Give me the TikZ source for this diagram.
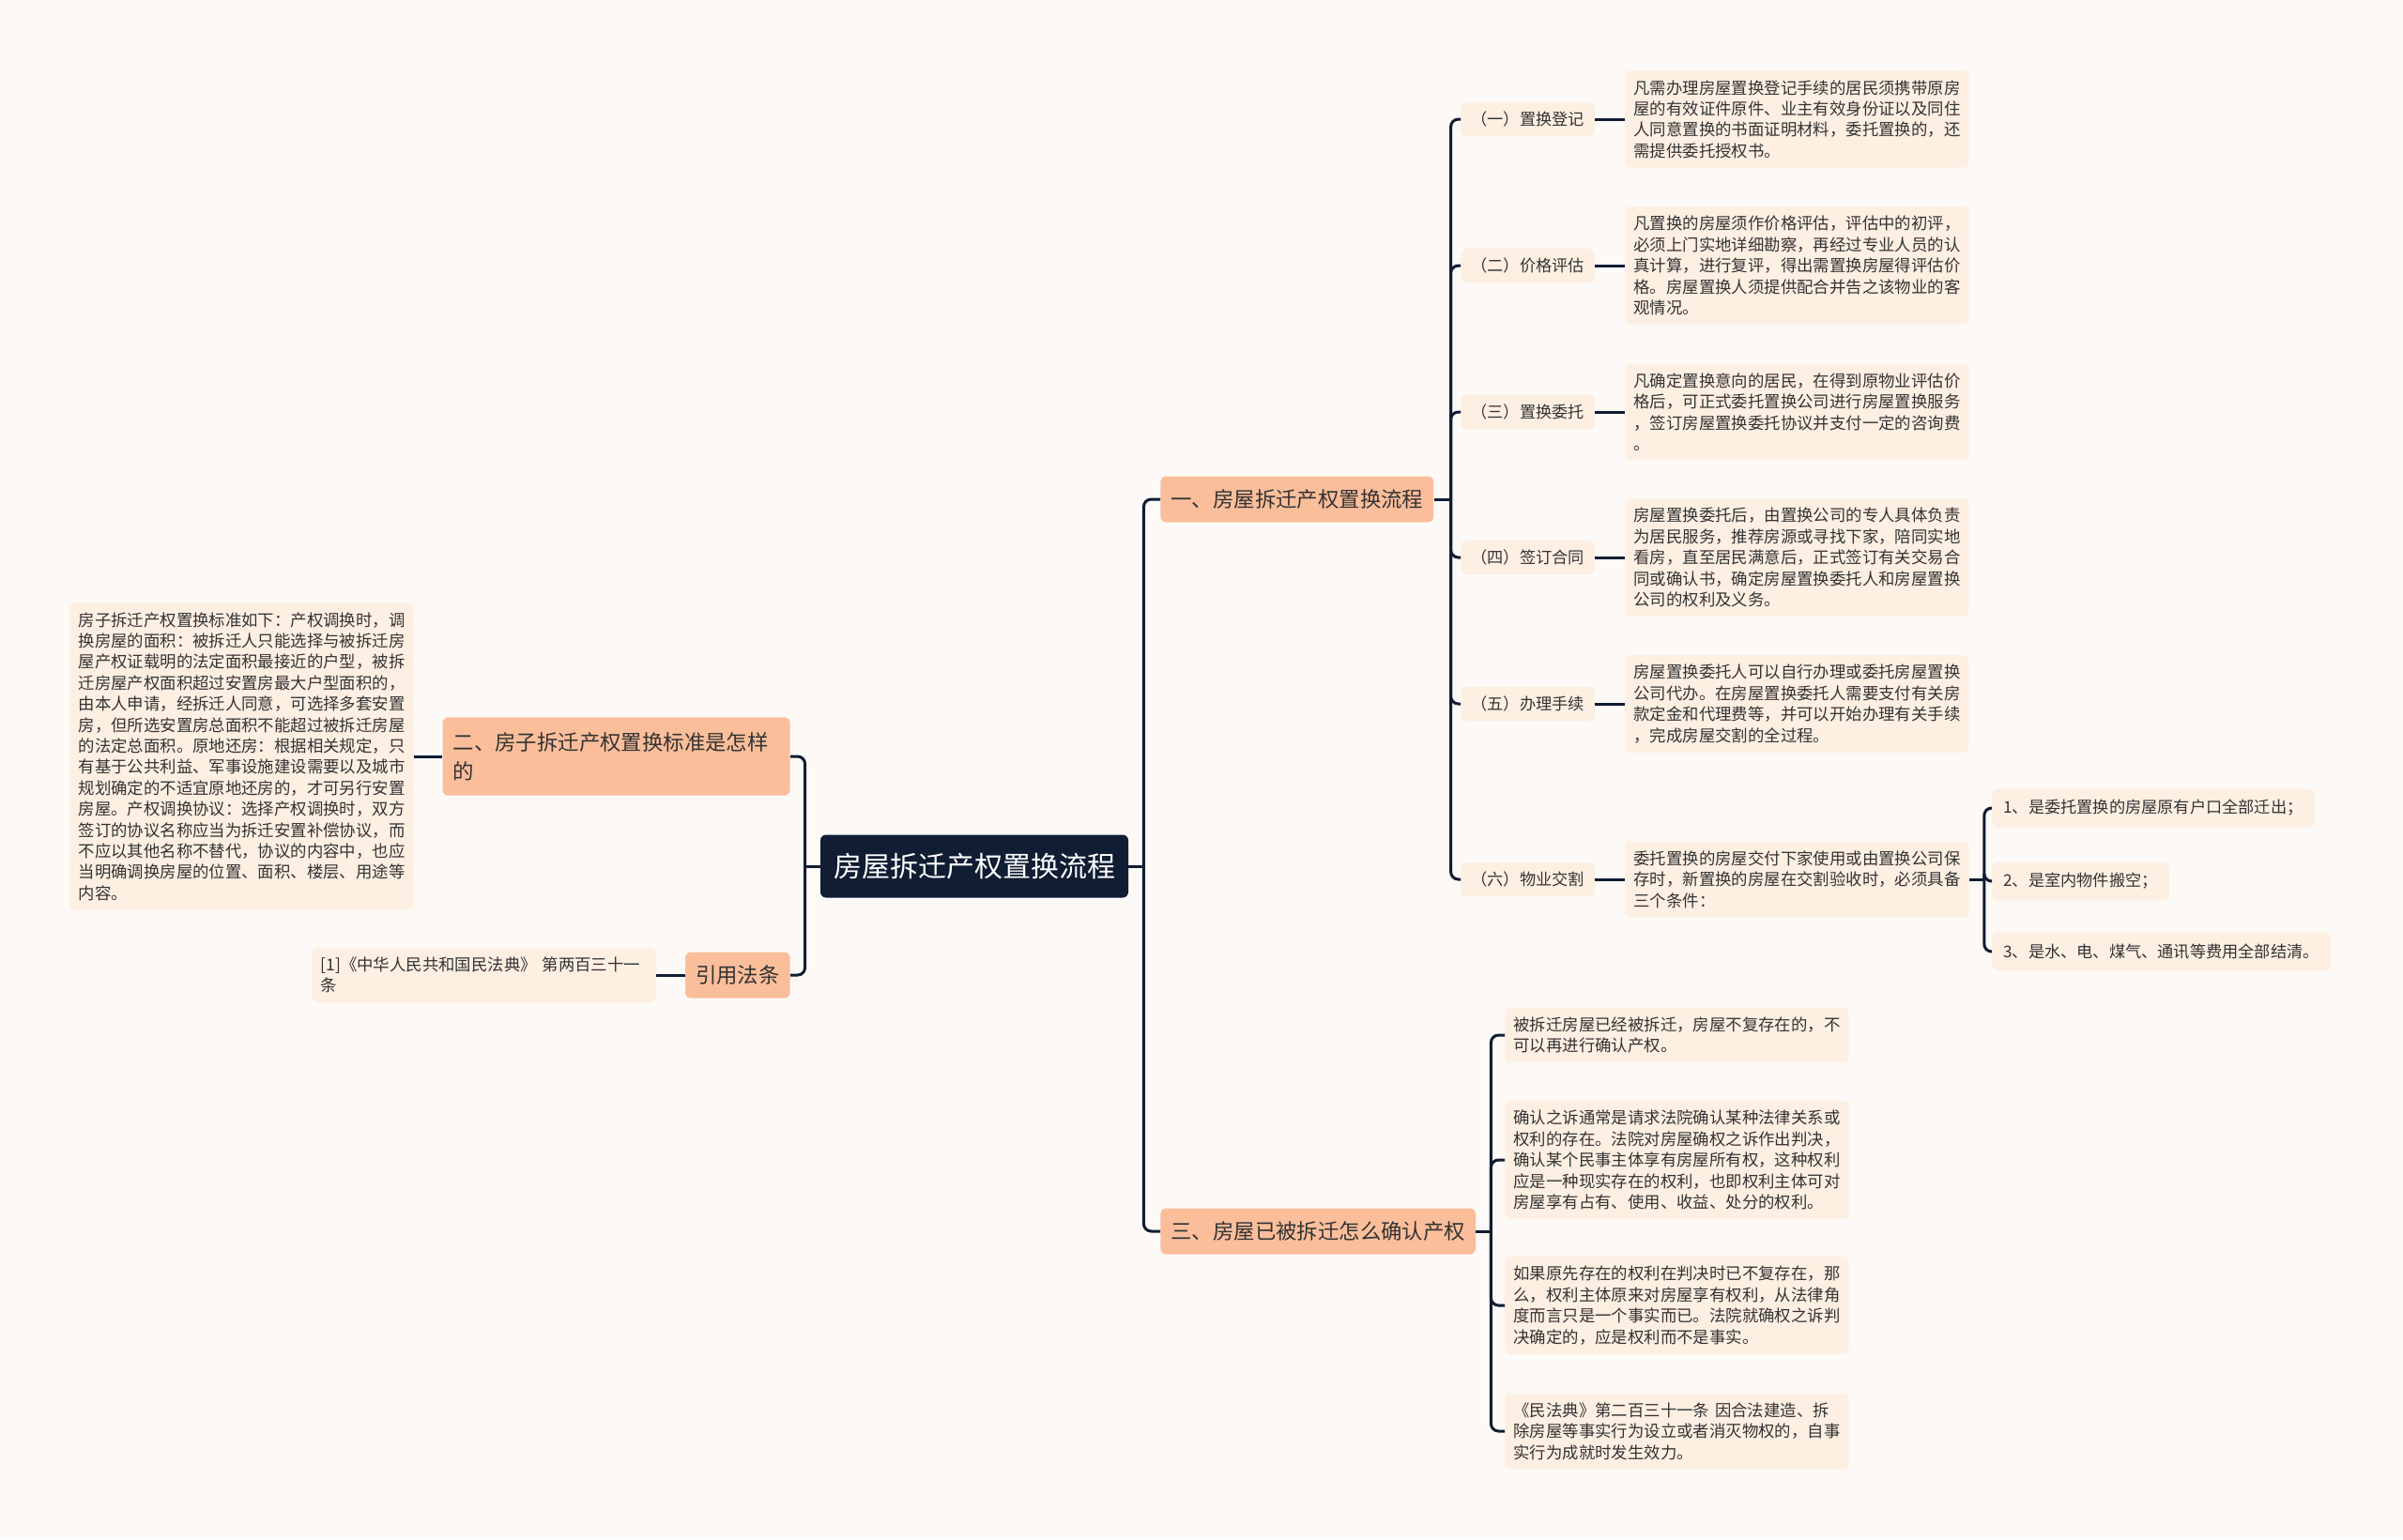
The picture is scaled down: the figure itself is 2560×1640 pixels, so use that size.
\documentclass[tikz,border=0pt]{standalone}
\usepackage{fontspec}
\setmainfont{Noto Sans CJK SC}
\usepackage{tikz}
\usetikzlibrary{positioning}
\definecolor{bgcol}{HTML}{FCF9F6}
\definecolor{navy}{HTML}{101D33}
\definecolor{peach}{HTML}{FBBE9B}
\definecolor{cream}{HTML}{FDEFE2}
\definecolor{ink}{HTML}{333333}

\begin{document}
\begin{tikzpicture}[x=0.5pt,y=-0.5pt,
    link/.style={draw=navy,line width=1.5pt,rounded corners=4pt},
    root/.style={fill=navy,text=white,rounded corners=3pt,font=\fontsize{15}{18}\selectfont,inner xsep=7pt,minimum height=33.5pt},
    topic/.style={fill=peach,text=ink,rounded corners=3pt,font=\fontsize{11.2}{15.5}\selectfont,inner xsep=5.5pt,minimum height=24.5pt,align=left},
    tag/.style={fill=cream,text=ink,rounded corners=3pt,font=\fontsize{8.6}{11.2}\selectfont,inner xsep=5.5pt,minimum height=18pt},
    leaf/.style={fill=cream,text=ink,rounded corners=3pt,font=\fontsize{8.7}{11.2}\selectfont,inner xsep=4.5pt,inner ysep=5pt,text width=174pt,align=left}]
    % ------------------------------------------------------------------
    %                             CANVAS
    % ------------------------------------------------------------------
    \fill[bgcol] (0,0) rectangle (2560,1640);
    \useasboundingbox (0,0) rectangle (2560,1640);
    % ------------------------------------------------------------------
    %                             NODES
    % ------------------------------------------------------------------
    % centre
    \node[root] (root) at (1038,923) {房屋拆迁产权置换流程};
    % main topics
    \node[topic,anchor=west] (t1) at (1236,532)  {一、房屋拆迁产权置换流程};
    \node[topic,anchor=west] (t3) at (1236,1312) {三、房屋已被拆迁怎么确认产权};
    \node[topic,anchor=east,text width=174pt,inner ysep=8pt] (t2) at (842,806) {二、房子拆迁产权置换标准是怎样\\的};
    \node[topic,anchor=east] (t4) at (842,1039)  {引用法条};
    % left details
    \node[leaf,anchor=east] (lx) at (441,806) {房子拆迁产权置换标准如下：产权调换时，调\\换房屋的面积：被拆迁人只能选择与被拆迁房\\屋产权证载明的法定面积最接近的户型，被拆\\迁房屋产权面积超过安置房最大户型面积的，\\由本人申请，经拆迁人同意，可选择多套安置\\房，但所选安置房总面积不能超过被拆迁房屋\\的法定总面积。原地还房：根据相关规定，只\\有基于公共利益、军事设施建设需要以及城市\\规划确定的不适宜原地还房的，才可另行安置\\房屋。产权调换协议：选择产权调换时，双方\\签订的协议名称应当为拆迁安置补偿协议，而\\不应以其他名称不替代，协议的内容中，也应\\当明确调换房屋的位置、面积、楼层、用途等\\内容。};
    \node[leaf,anchor=east] (cite) at (699,1039) {[1]《中华人民共和国民法典》 第两百三十一\\条};
    % steps of topic one
    \node[tag,anchor=west] (g1) at (1556,127) {（一）置换登记};
    \node[tag,anchor=west] (g2) at (1556,283) {（二）价格评估};
    \node[tag,anchor=west] (g3) at (1556,439) {（三）置换委托};
    \node[tag,anchor=west] (g4) at (1556,594) {（四）签订合同};
    \node[tag,anchor=west] (g5) at (1556,750) {（五）办理手续};
    \node[tag,anchor=west] (g6) at (1556,937) {（六）物业交割};
    \node[leaf,anchor=west] (d1) at (1731,127) {凡需办理房屋置换登记手续的居民须携带原房\\屋的有效证件原件、业主有效身份证以及同住\\人同意置换的书面证明材料，委托置换的，还\\需提供委托授权书。};
    \node[leaf,anchor=west] (d2) at (1731,283) {凡置换的房屋须作价格评估，评估中的初评，\\必须上门实地详细勘察，再经过专业人员的认\\真计算，进行复评，得出需置换房屋得评估价\\格。房屋置换人须提供配合并告之该物业的客\\观情况。};
    \node[leaf,anchor=west] (d3) at (1731,439) {凡确定置换意向的居民，在得到原物业评估价\\格后，可正式委托置换公司进行房屋置换服务\\，签订房屋置换委托协议并支付一定的咨询费\\。};
    \node[leaf,anchor=west] (d4) at (1731,594) {房屋置换委托后，由置换公司的专人具体负责\\为居民服务，推荐房源或寻找下家，陪同实地\\看房，直至居民满意后，正式签订有关交易合\\同或确认书，确定房屋置换委托人和房屋置换\\公司的权利及义务。};
    \node[leaf,anchor=west] (d5) at (1731,750) {房屋置换委托人可以自行办理或委托房屋置换\\公司代办。在房屋置换委托人需要支付有关房\\款定金和代理费等，并可以开始办理有关手续\\，完成房屋交割的全过程。};
    \node[leaf,anchor=west] (d6) at (1731,937) {委托置换的房屋交付下家使用或由置换公司保\\存时，新置换的房屋在交割验收时，必须具备\\三个条件：};
    % three conditions
    \node[tag,anchor=west,inner xsep=6pt,minimum height=20.5pt] (e1) at (2122,861)  {1、是委托置换的房屋原有户口全部迁出；};
    \node[tag,anchor=west,inner xsep=6pt,minimum height=20.5pt] (e2) at (2122,939)  {2、是室内物件搬空；};
    \node[tag,anchor=west,inner xsep=6pt,minimum height=20.5pt] (e3) at (2122,1014) {3、是水、电、煤气、通讯等费用全部结清。};
    % topic three details
    \node[leaf,anchor=west] (f1) at (1603,1103) {被拆迁房屋已经被拆迁，房屋不复存在的，不\\可以再进行确认产权。};
    \node[leaf,anchor=west] (f2) at (1603,1236) {确认之诉通常是请求法院确认某种法律关系或\\权利的存在。法院对房屋确权之诉作出判决，\\确认某个民事主体享有房屋所有权，这种权利\\应是一种现实存在的权利，也即权利主体可对\\房屋享有占有、使用、收益、处分的权利。};
    \node[leaf,anchor=west] (f3) at (1603,1391) {如果原先存在的权利在判决时已不复存在，那\\么，权利主体原来对房屋享有权利，从法律角\\度而言只是一个事实而已。法院就确权之诉判\\决确定的，应是权利而不是事实。};
    \node[leaf,anchor=west] (f4) at (1603,1525) {《民法典》第二百三十一条 因合法建造、拆\\除房屋等事实行为设立或者消灭物权的，自事\\实行为成就时发生效力。};
    % ------------------------------------------------------------------
    %                             EDGES
    % ------------------------------------------------------------------
    % from the centre
    \coordinate[right=8pt of root] (rr);
    \coordinate[left=8pt of root]  (rl);
    \draw[link] (root) -- (rr);
    \draw[link] (root) -- (rl);
    \draw[link] (rr) |- (t1);
    \draw[link] (rr) |- (t3);
    \draw[link] (rl) |- (t2);
    \draw[link] (rl) |- (t4);
    \draw[link] (t2) -- (lx);
    \draw[link] (t4) -- (cite);
    % topic one
    \coordinate[right=9pt of t1] (s1);
    \draw[link] (t1) -- (s1);
    \foreach \i in {1,...,6} {
      \draw[link] (s1) |- (g\i);
      \draw[link] (g\i) -- (d\i);
    }
    % conditions
    \coordinate[right=8pt of d6] (s6);
    \draw[link] (d6) -- (s6);
    \foreach \i in {1,2,3} \draw[link] (s6) |- (e\i);
    % topic three
    \coordinate[right=8pt of t3] (s3);
    \draw[link] (t3) -- (s3);
    \foreach \i in {1,...,4} \draw[link] (s3) |- (f\i);
\end{tikzpicture}
\end{document}
